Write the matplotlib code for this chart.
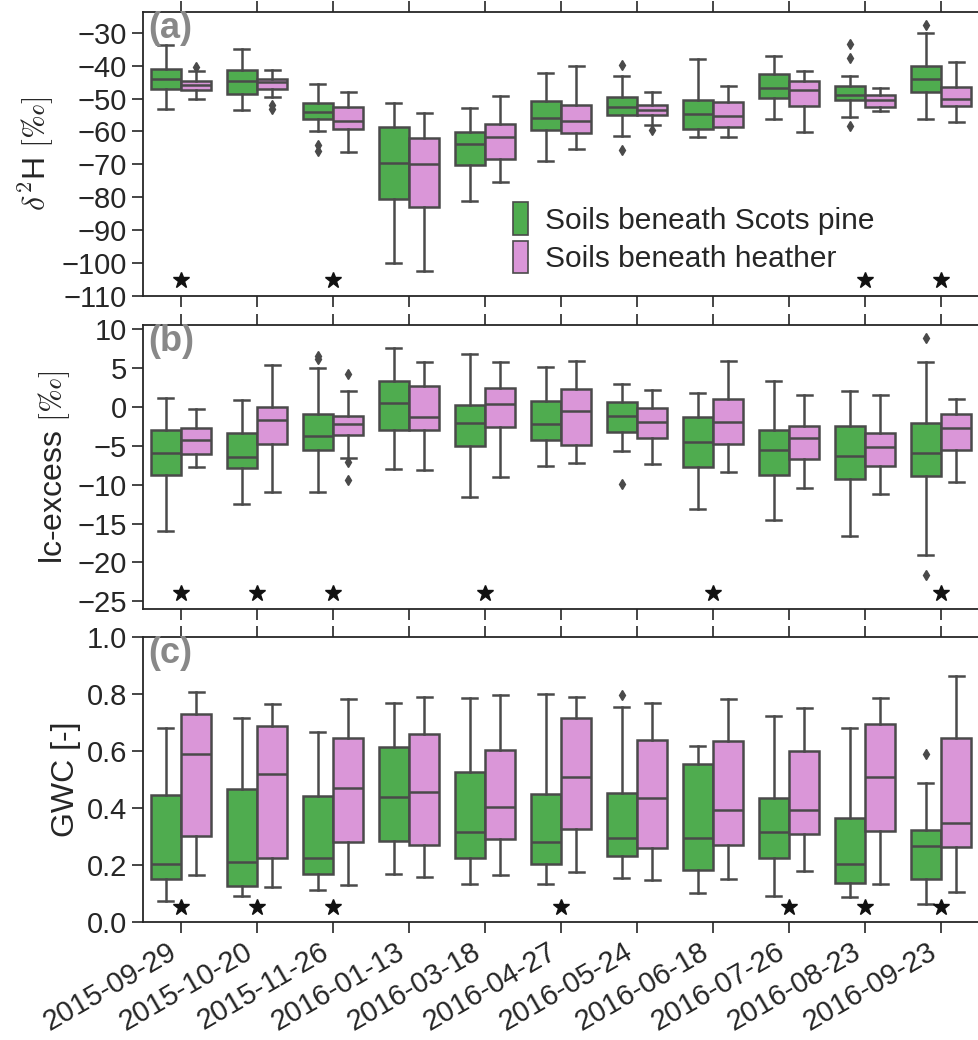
import numpy as np
import matplotlib
matplotlib.use('Agg')
import matplotlib.pyplot as plt
from matplotlib.patches import Patch

plt.rcParams['font.family'] = ['Liberation Sans', 'DejaVu Sans']
plt.rcParams['mathtext.fontset'] = 'cm'

dates = ['2015-09-29', '2015-10-20', '2015-11-26', '2016-01-13', '2016-03-18',
         '2016-04-27', '2016-05-24', '2016-06-18', '2016-07-26', '2016-08-23',
         '2016-09-23']

# (a) d2H -- box stats: low whisker, q1, median, q3, high whisker
d2h_pine_lo = [-53.2, -53.6, -59.8, -100.0, -81.2, -69.1, -61.4, -61.7, -56.1, -55.7, -56.1]
d2h_pine_q1 = [-47.0, -48.7, -56.2, -80.4, -70.3, -59.7, -55.0, -59.2, -49.8, -50.5, -47.9]
d2h_pine_med = [-44.1, -44.6, -54.2, -69.6, -63.8, -56.0, -52.7, -54.7, -46.7, -48.8, -44.1]
d2h_pine_q3 = [-41.0, -41.4, -51.3, -58.7, -60.1, -50.8, -49.6, -50.4, -42.4, -46.2, -40.1]
d2h_pine_hi = [-33.7, -35.1, -45.5, -51.3, -52.8, -42.2, -43.2, -37.9, -37.0, -43.2, -30.2]
d2h_pine_fl = [[], [], [-64.0, -66.0], [], [], [], [-39.7, -65.7], [], [], [-33.5, -37.8, -58.5], [-27.8]]
d2h_heath_lo = [-50.0, -49.6, -66.4, -102.5, -75.5, -65.4, -58.1, -61.7, -60.1, -53.9, -57.1]
d2h_heath_q1 = [-47.5, -47.1, -59.4, -83.0, -68.4, -60.4, -55.0, -58.6, -52.2, -52.5, -52.3]
d2h_heath_med = [-46.0, -45.1, -56.7, -69.8, -61.8, -56.7, -53.5, -55.2, -47.5, -50.3, -50.1]
d2h_heath_q3 = [-44.7, -44.2, -52.7, -62.0, -57.8, -52.1, -52.1, -51.1, -44.6, -48.9, -46.6]
d2h_heath_hi = [-41.7, -41.4, -48.0, -54.4, -49.1, -40.2, -48.1, -46.1, -41.5, -46.7, -38.8]
d2h_heath_fl = [[-40.3], [-52.0, -53.3], [], [], [], [], [-59.6], [], [], [], []]
d2h_stars = [0, 2, 9, 10]

# (b) lc-excess
lc_pine_lo = [-16.0, -12.5, -11.0, -8.0, -11.55, -7.6, -5.7, -13.1, -14.5, -16.6, -19.1]
lc_pine_q1 = [-8.8, -7.9, -5.5, -3.0, -5.0, -4.3, -3.2, -7.7, -8.7, -9.3, -8.85]
lc_pine_med = [-5.9, -6.4, -3.7, 0.55, -2.05, -2.2, -1.1, -4.5, -5.6, -6.35, -5.9]
lc_pine_q3 = [-3.0, -3.35, -0.95, 3.3, 0.2, 0.73, 0.68, -1.25, -2.9, -2.5, -2.1]
lc_pine_hi = [1.1, 0.9, 5.0, 7.55, 6.8, 5.2, 2.96, 1.8, 3.35, 2.1, 5.75]
lc_pine_fl = [[], [], [6.2, 6.6], [], [], [], [-9.9], [], [], [], [8.9, -21.6]]
lc_heath_lo = [-7.7, -10.9, -6.6, -8.1, -9.0, -7.2, -7.4, -8.4, -10.4, -11.2, -9.7]
lc_heath_q1 = [-6.1, -4.7, -3.6, -2.9, -2.6, -4.9, -3.95, -4.8, -6.75, -7.6, -5.6]
lc_heath_med = [-4.3, -1.7, -2.15, -1.3, 0.34, -0.47, -1.94, -1.94, -4.0, -5.2, -2.75]
lc_heath_q3 = [-2.75, 0.0, -1.2, 2.65, 2.4, 2.35, -0.09, 1.07, -2.4, -3.4, -0.95]
lc_heath_hi = [-0.2, 5.4, 2.1, 5.75, 5.75, 5.9, 2.2, 5.9, 1.55, 1.6, 0.98]
lc_heath_fl = [[], [], [4.25, -7.1, -9.4], [], [], [], [], [], [], [], []]
lc_stars = [0, 1, 2, 4, 7, 10]

# (c) GWC
gwc_pine_lo = [0.072, 0.090, 0.113, 0.170, 0.134, 0.134, 0.154, 0.100, 0.091, 0.087, 0.062]
gwc_pine_q1 = [0.152, 0.125, 0.169, 0.283, 0.224, 0.204, 0.233, 0.184, 0.224, 0.136, 0.152]
gwc_pine_med = [0.203, 0.212, 0.223, 0.440, 0.314, 0.280, 0.293, 0.295, 0.314, 0.204, 0.265]
gwc_pine_q3 = [0.445, 0.467, 0.443, 0.614, 0.528, 0.449, 0.453, 0.556, 0.434, 0.365, 0.322]
gwc_pine_hi = [0.682, 0.715, 0.668, 0.767, 0.785, 0.801, 0.754, 0.619, 0.723, 0.680, 0.488]
gwc_pine_fl = [[], [], [], [], [], [], [0.795], [], [], [], [0.591]]
gwc_heath_lo = [0.165, 0.122, 0.131, 0.159, 0.165, 0.174, 0.149, 0.150, 0.178, 0.134, 0.106]
gwc_heath_q1 = [0.302, 0.225, 0.281, 0.271, 0.291, 0.326, 0.258, 0.271, 0.310, 0.320, 0.263]
gwc_heath_med = [0.590, 0.519, 0.470, 0.455, 0.402, 0.509, 0.435, 0.394, 0.393, 0.510, 0.348]
gwc_heath_q3 = [0.729, 0.688, 0.646, 0.661, 0.603, 0.715, 0.638, 0.634, 0.600, 0.694, 0.647]
gwc_heath_hi = [0.807, 0.766, 0.781, 0.789, 0.795, 0.790, 0.768, 0.782, 0.750, 0.785, 0.862]
gwc_heath_fl = [[], [], [], [], [], [], [], [], [], [], []]
gwc_stars = [0, 1, 2, 5, 8, 9, 10]

green = '#4fac4f'
pink = '#da96d8'
edge = '#4a4a4a'
fs = 21


def make_stats(lo, q1, med, q3, hi, fl):
    return [dict(whislo=a, q1=b, med=c, q3=d, whishi=e, fliers=f)
            for a, b, c, d, e, f in zip(lo, q1, med, q3, hi, fl)]


def draw_boxes(ax, stats, pos, color):
    lw = 1.8
    ax.bxp(stats, positions=pos, widths=0.4, capwidths=0.2, patch_artist=True,
           manage_ticks=False,
           boxprops=dict(facecolor=color, edgecolor=edge, linewidth=lw),
           medianprops=dict(color=edge, linewidth=lw),
           whiskerprops=dict(color=edge, linewidth=lw),
           capprops=dict(color=edge, linewidth=lw),
           flierprops=dict(marker='d', markerfacecolor=edge, markeredgecolor=edge,
                           markersize=5))


fig = plt.figure(figsize=(9.79, 10.4), dpi=100)
left, width = 143 / 979, 1 - 143 / 979
ax_a = fig.add_axes([left, 0.7154, width, 0.2731])
ax_b = fig.add_axes([left, 0.4144, width, 0.2731])
ax_c = fig.add_axes([left, 0.1135, width, 0.2740])

x = np.arange(len(dates))
panels = [
    (ax_a, make_stats(d2h_pine_lo, d2h_pine_q1, d2h_pine_med, d2h_pine_q3, d2h_pine_hi, d2h_pine_fl),
     make_stats(d2h_heath_lo, d2h_heath_q1, d2h_heath_med, d2h_heath_q3, d2h_heath_hi, d2h_heath_fl),
     d2h_stars, -105, (-110, -23.7), np.arange(-110, -29, 10), r'$\delta^2$H $[\perthousand]$', '(a)'),
    (ax_b, make_stats(lc_pine_lo, lc_pine_q1, lc_pine_med, lc_pine_q3, lc_pine_hi, lc_pine_fl),
     make_stats(lc_heath_lo, lc_heath_q1, lc_heath_med, lc_heath_q3, lc_heath_hi, lc_heath_fl),
     lc_stars, -24, (-26, 10.55), np.arange(-25, 11, 5), r'lc-excess $[\perthousand]$', '(b)'),
    (ax_c, make_stats(gwc_pine_lo, gwc_pine_q1, gwc_pine_med, gwc_pine_q3, gwc_pine_hi, gwc_pine_fl),
     make_stats(gwc_heath_lo, gwc_heath_q1, gwc_heath_med, gwc_heath_q3, gwc_heath_hi, gwc_heath_fl),
     gwc_stars, 0.053, (0, 1.0), np.arange(0, 1.01, 0.2), 'GWC [-]', '(c)'),
]

for ax, st_pine, st_heath, stars, star_y, ylim, yticks, ylabel, tag in panels:
    draw_boxes(ax, st_pine, x - 0.2, green)
    draw_boxes(ax, st_heath, x + 0.2, pink)
    ax.plot(stars, [star_y] * len(stars), '*', color='#111111', markersize=12, zorder=5)
    ax.set_xlim(-0.5, 10.5)
    ax.set_ylim(*ylim)
    ax.set_yticks(yticks)
    ax.set_xticks(x)
    ax.set_ylabel(ylabel, fontsize=23, color='#262626')
    ax.spines['right'].set_visible(False)
    for s in ['left', 'top', 'bottom']:
        ax.spines[s].set_color('#262626')
        ax.spines[s].set_linewidth(1.3)
    ax.tick_params(axis='both', direction='out', length=8, width=1.2, color='#262626',
                   labelsize=fs, labelcolor='#262626')
    ax.tick_params(axis='x', top=True)
    ax.text(0.006, 1.005, tag, transform=ax.transAxes, ha='left', va='top',
            fontsize=26, fontweight='bold', color='#888888', zorder=6)

ax_c.yaxis.set_major_formatter(plt.FormatStrFormatter('%.1f'))
ax_a.set_xticklabels([])
ax_b.set_xticklabels([])
ax_c.set_xticklabels(dates, rotation=30, ha='right')

handles = [Patch(facecolor=green, edgecolor=edge, linewidth=1.2, label='Soils beneath Scots pine'),
           Patch(facecolor=pink, edgecolor=edge, linewidth=1.2, label='Soils beneath heather')]
ax_a.legend(handles=handles, loc='lower left', bbox_to_anchor=(0.41, -0.015), frameon=False,
            fontsize=21.5, handlelength=0.5, handleheight=1.3, handletextpad=0.6,
            labelspacing=0.2, labelcolor='#262626')

fig.savefig('out.png', dpi=100)
